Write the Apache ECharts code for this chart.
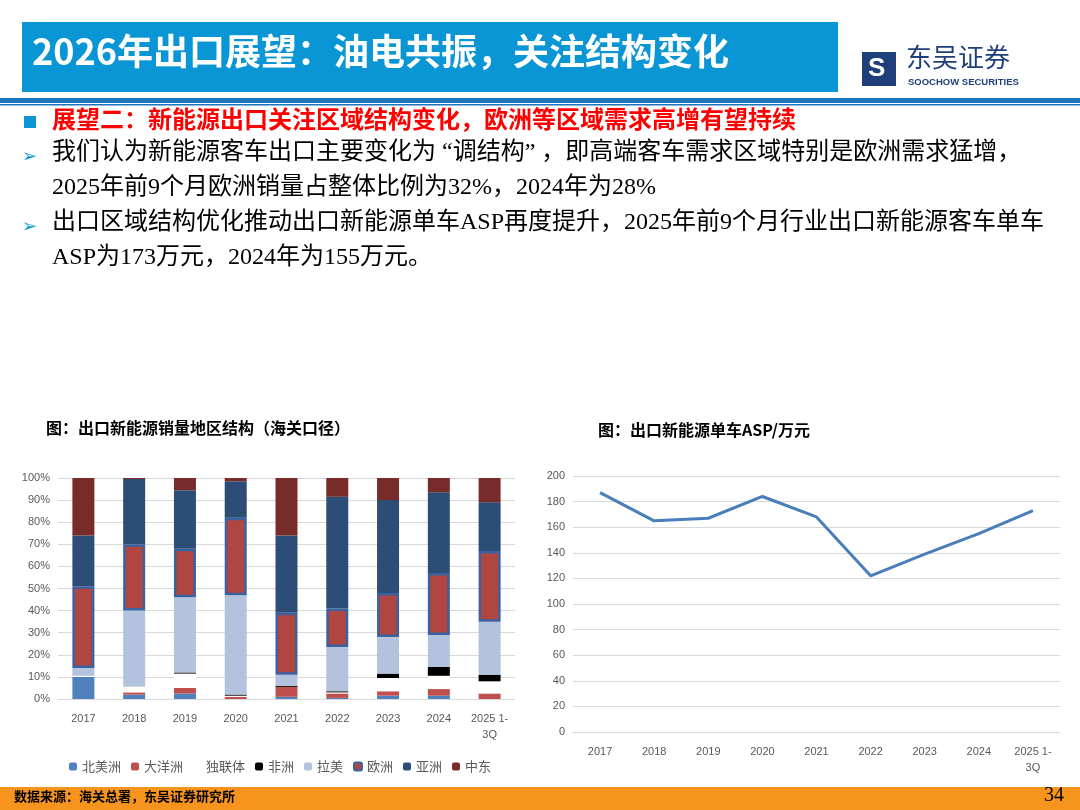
<!DOCTYPE html>
<html><head><meta charset="utf-8">
<script src="https://cdn.jsdelivr.net/npm/echarts@6/dist/echarts.min.js"></script>
<style>html,body{margin:0;padding:0;background:#fff}#c{width:1080px;height:810px}</style>
</head><body><div id="c"></div>
<script>
// 地区结构（%）
const years = ['2017', '2018', '2019', '2020', '2021', '2022', '2023', '2024', '2025 1-\n3Q'];
const northAmerica = [10, 2, 2.5, 0, 1, 0.5, 1.5, 1.5, 0];
const oceania = [0, 1, 2.5, 1, 4.5, 2, 2, 3, 2.5];
const cis = [0.5, 2.5, 6.5, 0.5, 0, 0.5, 6, 6, 5.5];
const africa = [0, 0, 0.5, 0.5, 0.5, 0.5, 2, 4, 3];
const latam = [3.5, 34.5, 34, 45, 5, 20, 16.5, 14.5, 24];
const europe = [37, 30, 22, 35, 28, 17.5, 20, 28, 32];
const asia = [23, 29.5, 26.5, 16.5, 35, 50.5, 42, 36.5, 22];
const middleEast = [26, 0.5, 5.5, 1.5, 26, 8.5, 10, 6.5, 11];
// 单车ASP（万元）
const asp = [187, 165, 167, 184, 168, 122, 139, 155, 173];

const chart = echarts.init(document.getElementById('c'));
const cjk = '"Noto Sans CJK SC", sans-serif';
const mix = '"Liberation Serif", "Noto Sans CJK SC", serif';
const axisText = { color: '#595959', fontSize: 11, fontFamily: 'Liberation Sans, sans-serif' };

const stackDefs = [
  ['北美洲', northAmerica, '#4F81BD'],
  ['大洋洲', oceania, '#C0504D'],
  ['独联体', cis, '#FFFFFF'],
  ['非洲', africa, '#000000'],
  ['拉美', latam, '#B3C3DE'],
  ['欧洲', europe, '#B04641'],
  ['亚洲', asia, '#2C4D75'],
  ['中东', middleEast, '#772C2A']
];
const barSeries = stackDefs.map(([name, data, color]) => ({
  name, type: 'bar', stack: 'r', data, barWidth: 22,
  xAxisIndex: 0, yAxisIndex: 0,
  itemStyle: name === '欧洲'
    ? { color, borderColor: '#3A62A0', borderWidth: 2.5 }
    : { color }
}));

const txt = (x, y, text, style) => ({ type: 'text', left: x, top: y, style: Object.assign({ text, fontFamily: cjk }, style) });

chart.setOption({
  animation: false,
  graphic: [
    { type: 'rect', shape: { x: 22, y: 22, width: 816, height: 70 }, style: { fill: '#0A96D4' } },
    txt(32, 33, '2026年出口展望：油电共振，关注结构变化', { fill: '#fff', fontSize: 36, fontWeight: 'bold' }),
    { type: 'rect', shape: { x: 862, y: 52, width: 34, height: 34 }, style: { fill: '#1F3F7A' } },
    txt(868, 56, 'S', { fill: '#fff', fontSize: 26, fontWeight: 'bold', fontFamily: 'Liberation Sans' }),
    txt(906, 44, '东吴证券', { fill: '#1F3F7A', fontSize: 26 }),
    txt(908, 77, 'SOOCHOW SECURITIES', { fill: '#1F3F7A', fontSize: 9.5, fontWeight: 'bold', fontFamily: 'Liberation Sans' }),
    { type: 'rect', shape: { x: 0, y: 98, width: 1080, height: 5 }, style: { fill: '#1B75BC' } },
    { type: 'rect', shape: { x: 0, y: 104, width: 1080, height: 1.5 }, style: { fill: '#1B75BC' } },
    { type: 'rect', shape: { x: 24, y: 116, width: 12, height: 12 }, style: { fill: '#0A96D4' } },
    txt(52, 107, '展望二：新能源出口关注区域结构变化，欧洲等区域需求高增有望持续', { fill: '#FF0000', fontSize: 24, fontWeight: 'bold' }),
    txt(22, 146, '➢', { fill: '#0A96D4', fontSize: 18 }),
    txt(52, 141, '我们认为新能源客车出口主要变化为 “调结构” ，即高端客车需求区域特别是欧洲需求猛增，', { fill: '#000', fontSize: 24, fontFamily: mix }),
    txt(52, 176, '2025年前9个月欧洲销量占整体比例为32%，2024年为28%', { fill: '#000', fontSize: 24, fontFamily: mix }),
    txt(22, 216, '➢', { fill: '#0A96D4', fontSize: 18 }),
    txt(52, 211, '出口区域结构优化推动出口新能源单车ASP再度提升，2025年前9个月行业出口新能源客车单车', { fill: '#000', fontSize: 24, fontFamily: mix }),
    txt(52, 246, 'ASP为173万元，2024年为155万元。', { fill: '#000', fontSize: 24, fontFamily: mix }),
    txt(46, 420, '图：出口新能源销量地区结构（海关口径）', { fill: '#000', fontSize: 16, fontWeight: 'bold' }),
    txt(598, 422, '图：出口新能源单车ASP/万元', { fill: '#000', fontSize: 16, fontWeight: 'bold' }),
    { type: 'rect', shape: { x: 0, y: 787, width: 1080, height: 23 }, style: { fill: '#F7941D' } },
    txt(14, 790, '数据来源：海关总署，东吴证券研究所', { fill: '#000', fontSize: 13, fontWeight: 'bold' }),
    txt(1044, 786, '34', { fill: '#000', fontSize: 20, fontFamily: 'Liberation Serif' })
  ],
  legend: {
    data: stackDefs.map(d => d[0]), left: 64, top: 755, itemWidth: 8, itemHeight: 8, itemGap: 10,
    textStyle: { color: '#595959', fontSize: 13, fontFamily: cjk }
  },
  grid: [
    { left: 58, top: 478, width: 457, height: 221 },
    { left: 573, top: 476, width: 487, height: 256 }
  ],
  xAxis: [
    { type: 'category', data: years, gridIndex: 0, axisTick: { show: false }, axisLine: { show: false },
      axisLabel: Object.assign({ interval: 0, margin: 12, lineHeight: 16 }, axisText) },
    { type: 'category', data: years, gridIndex: 1, boundaryGap: true, axisTick: { show: false },
      axisLine: { show: true, lineStyle: { color: '#D9D9D9' } },
      axisLabel: Object.assign({ interval: 0, margin: 12, lineHeight: 16 }, axisText) }
  ],
  yAxis: [
    { type: 'value', gridIndex: 0, min: 0, max: 100, interval: 10,
      axisLabel: Object.assign({ formatter: '{value}%' }, axisText),
      splitLine: { lineStyle: { color: '#D9D9D9' } } },
    { type: 'value', gridIndex: 1, min: 0, max: 200, interval: 20, axisLabel: axisText,
      splitLine: { lineStyle: { color: '#D9D9D9' } } }
  ],
  series: barSeries.concat([{
    name: 'ASP', type: 'line', data: asp, xAxisIndex: 1, yAxisIndex: 1, symbol: 'none',
    lineStyle: { color: '#4A7EBB', width: 3 }
  }])
});
</script></body></html>
